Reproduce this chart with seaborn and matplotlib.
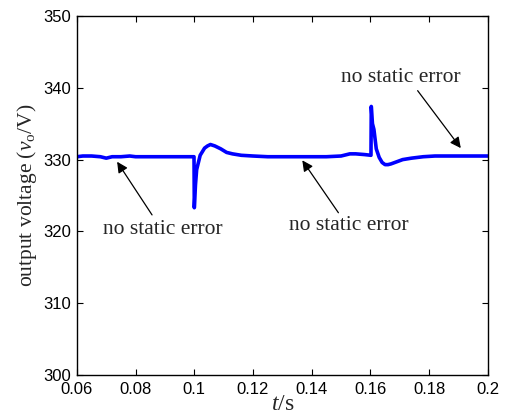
import matplotlib
matplotlib.use("Agg")
import matplotlib.pyplot as plt
import seaborn as sns
import pandas as pd

# data
t_s = [0.06, 0.062, 0.065, 0.068, 0.07, 0.072, 0.075, 0.078, 0.08, 0.085, 0.09, 0.095,
       0.0999, 0.1, 0.1004, 0.1008, 0.102, 0.1035, 0.1045, 0.1055, 0.107, 0.109, 0.111,
       0.113, 0.116, 0.12, 0.125, 0.13, 0.135, 0.14, 0.145, 0.15, 0.153, 0.155, 0.158,
       0.1602, 0.1603, 0.1607, 0.1612, 0.162, 0.163, 0.164, 0.165, 0.166, 0.167, 0.169,
       0.171, 0.174, 0.178, 0.182, 0.186, 0.19, 0.195, 0.2]
v_o = [330.4, 330.5, 330.5, 330.4, 330.2, 330.4, 330.4, 330.5, 330.4, 330.4, 330.4, 330.4,
       330.4, 323.3, 326.5, 328.6, 330.6, 331.6, 331.9, 332.1, 331.9, 331.5, 331.0,
       330.8, 330.6, 330.5, 330.4, 330.4, 330.4, 330.4, 330.4, 330.5, 330.8, 330.8, 330.7,
       330.6, 337.4, 335.0, 334.2, 331.5, 330.3, 329.6, 329.3, 329.3, 329.4, 329.7,
       330.0, 330.2, 330.4, 330.5, 330.5, 330.5, 330.5, 330.5]

annot_text = ["no static error", "no static error", "no static error"]
annot_tip = [(0.0737, 329.7), (0.1368, 329.9), (0.1908, 331.6)]
annot_tail = [(0.0856, 322.3), (0.1491, 322.6), (0.1761, 339.6)]
annot_pos = [(0.0894, 320.2), (0.1525, 320.8), (0.1703, 341.4)]

x_ticks = [0.06, 0.08, 0.1, 0.12, 0.14, 0.16, 0.18, 0.2]
x_labels = ["0.06", "0.08", "0.1", "0.12", "0.14", "0.16", "0.18", "0.2"]
y_ticks = [300, 310, 320, 330, 340, 350]

sns.set_style("ticks")
plt.rcParams["font.family"] = ["Liberation Sans", "DejaVu Sans"]
plt.rcParams["mathtext.fontset"] = "custom"
plt.rcParams["mathtext.rm"] = "Liberation Serif"
plt.rcParams["mathtext.it"] = "Liberation Serif:italic"

df = pd.DataFrame({"t": t_s, "v": v_o})

fig = plt.figure(figsize=(5.06, 4.2), dpi=100)
ax = fig.add_axes([0.152, 0.107, 0.812, 0.855])
sns.lineplot(data=df, x="t", y="v", ax=ax, color="#0000ff", lw=2.6, sort=False)

ax.set_xlim(0.06, 0.2)
ax.set_ylim(300, 350)
ax.set_xticks(x_ticks)
ax.set_xticklabels(x_labels)
ax.set_yticks(y_ticks)
ax.tick_params(direction="in", top=True, right=True, labelsize=12, length=4,
               width=0.8, colors="k")
ax.tick_params(axis="x", pad=5)
ax.tick_params(axis="y", pad=4)
for s in ax.spines.values():
    s.set_visible(True)
    s.set_color("k")
    s.set_linewidth(1.0)

ax.set_xlabel(r"$t$/s", fontsize=17, family="Liberation Serif", labelpad=-2)
ax.set_ylabel(r"output voltage ($v_{\mathrm{o}}$/V)", fontsize=15.5,
              family="Liberation Serif", labelpad=3)

for txt, tip, tail, pos in zip(annot_text, annot_tip, annot_tail, annot_pos):
    ax.annotate("", xy=tip, xytext=tail,
                arrowprops=dict(arrowstyle="-|>", color="k", lw=0.9,
                                mutation_scale=16, shrinkA=0, shrinkB=0))
    ax.text(pos[0], pos[1], txt, ha="center", va="center", fontsize=15.5,
            family="Liberation Serif")

fig.savefig("out.png", dpi=100)
